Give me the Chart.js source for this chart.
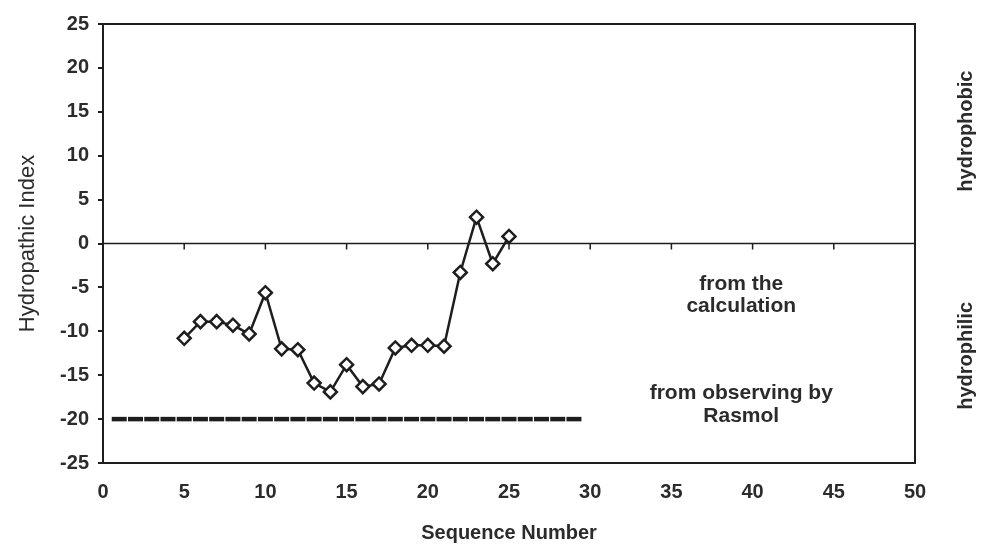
<!DOCTYPE HTML>
<html>

<head>
    <title>Hydropathic Index</title>
    <meta charset="utf-8">
    <script src="https://cdn.jsdelivr.net/npm/chart.js@4/dist/chart.umd.min.js"></script>
    <style>
        html, body {
            margin: 0;
            padding: 0;
            background: #fff;
        }

        .container {
            position: relative;
            width: 991px;
            height: 546px;
        }
    </style>
</head>

<body>
    <section class="container">
        <canvas id="hydro-chart" width=991 height=546></canvas>
    </section>

    <script>
        /* sequence numbers and index from the calculation */
        var seqNumbers = [5, 6, 7, 8, 9, 10, 11, 12, 13, 14, 15, 16, 17, 18, 19, 20, 21, 22, 23, 24, 25];
        var calcIndex = [-10.8, -8.9, -8.9, -9.3, -10.3, -5.6, -12.0, -12.1, -15.9, -16.9, -13.8,
            -16.3, -16.0, -11.9, -11.6, -11.6, -11.7, -3.3, 3.0, -2.3, 0.8];

        /* observed by Rasmol */
        var rasmolSeq = [1, 2, 3, 4, 5, 6, 7, 8, 9, 10, 11, 12, 13, 14, 15, 16, 17, 18, 19, 20,
            21, 22, 23, 24, 25, 26, 27, 28, 29];
        var rasmolIndex = [-20, -20, -20, -20, -20, -20, -20, -20, -20, -20, -20, -20, -20, -20, -20,
            -20, -20, -20, -20, -20, -20, -20, -20, -20, -20, -20, -20, -20, -20];

        var calcLabel = ["from the", "calculation"];
        var rasmolLabel = ["from observing by", "Rasmol"];
        var sideLabels = ["hydrophobic", "hydrophilic"];

        var INK = '#1e1e1e';
        var TEXT = '#2b2b2b';
        var FONT = "'Liberation Sans', Arial, sans-serif";

        function toPoints(xs, ys) {
            var out = [];
            for (var i = 0; i < xs.length; i++) out.push({ x: xs[i], y: ys[i] });
            return out;
        }

        // frame, zero line and its ticks, plus the texts
        var decor = {
            id: 'decor',
            beforeDatasetsDraw: function (chart) {
                var ctx = chart.ctx, a = chart.chartArea;
                var xs = chart.scales.x, ys = chart.scales.y;
                ctx.save();
                ctx.strokeStyle = INK;
                ctx.lineWidth = 2;
                ctx.beginPath();
                ctx.moveTo(a.left, a.top);
                ctx.lineTo(a.right, a.top);
                ctx.lineTo(a.right, a.bottom);
                ctx.stroke();

                var y0 = ys.getPixelForValue(0);
                ctx.lineWidth = 1.5;
                ctx.beginPath();
                ctx.moveTo(a.left, y0);
                ctx.lineTo(a.right, y0);
                xs.ticks.forEach(function (t) {
                    var px = xs.getPixelForValue(t.value);
                    ctx.moveTo(px, y0);
                    ctx.lineTo(px, y0 + 6);
                });
                ctx.stroke();
                ctx.restore();
            },
            afterDraw: function (chart) {
                var ctx = chart.ctx, a = chart.chartArea;
                var xs = chart.scales.x, ys = chart.scales.y;
                ctx.save();
                ctx.fillStyle = TEXT;
                ctx.textAlign = 'center';
                ctx.textBaseline = 'middle';
                ctx.font = "bold 21px " + FONT;
                var cx = xs.getPixelForValue(39.3);
                ctx.fillText(calcLabel[0], cx, ys.getPixelForValue(-4.6));
                ctx.fillText(calcLabel[1], cx, ys.getPixelForValue(-7.1));
                ctx.fillText(rasmolLabel[0], cx, ys.getPixelForValue(-17.1));
                ctx.fillText(rasmolLabel[1], cx, ys.getPixelForValue(-19.7));

                ctx.font = "bold 20px " + FONT;
                var sx = a.right + 51;
                [12.8, -12.8].forEach(function (v, i) {
                    ctx.save();
                    ctx.translate(sx, ys.getPixelForValue(v));
                    ctx.rotate(-Math.PI / 2);
                    ctx.fillText(sideLabels[i], 0, 0);
                    ctx.restore();
                });
                ctx.restore();
            }
        };

        var chart = new Chart(document.getElementById('hydro-chart'), {
            type: 'scatter',
            data: {
                datasets: [{
                    label: 'calculation',
                    data: toPoints(seqNumbers, calcIndex),
                    showLine: true,
                    borderColor: INK,
                    borderWidth: 2.5,
                    pointStyle: 'rectRot',
                    pointRadius: 6.5,
                    pointBorderWidth: 2.5,
                    pointBackgroundColor: '#fff',
                    pointBorderColor: INK
                }, {
                    label: 'Rasmol',
                    data: toPoints(rasmolSeq, rasmolIndex),
                    showLine: false,
                    pointStyle: 'line',
                    pointRadius: 7.5,
                    pointBorderWidth: 4.5,
                    pointBorderColor: INK,
                    borderColor: INK
                }]
            },
            options: {
                responsive: false,
                animation: false,
                layout: {
                    padding: { top: 24, right: 76, left: 0, bottom: 0 }
                },
                plugins: {
                    legend: { display: false },
                    tooltip: { enabled: false }
                },
                scales: {
                    x: {
                        type: 'linear',
                        min: 0,
                        max: 50,
                        afterFit: function (s) { s.height = 83; },
                        ticks: {
                            stepSize: 5,
                            padding: 17,
                            color: TEXT,
                            font: { family: FONT, size: 20, weight: 'bold' }
                        },
                        grid: { display: false, drawTicks: false },
                        border: { display: true, color: INK, width: 2 },
                        title: {
                            display: true,
                            text: 'Sequence Number',
                            color: TEXT,
                            padding: { top: 0, bottom: 1 },
                            font: { family: FONT, size: 20, weight: 'bold' }
                        }
                    },
                    y: {
                        min: -25,
                        max: 25,
                        afterFit: function (s) { s.width = 103; },
                        ticks: {
                            stepSize: 5,
                            padding: 9,
                            color: TEXT,
                            font: { family: FONT, size: 20, weight: 'bold' }
                        },
                        grid: {
                            drawOnChartArea: false,
                            drawTicks: true,
                            tickLength: 5,
                            color: INK,
                            lineWidth: 2
                        },
                        border: { display: true, color: INK, width: 2 },
                        title: {
                            display: true,
                            text: 'Hydropathic Index',
                            color: TEXT,
                            padding: { top: 15, bottom: 0 },
                            font: { family: FONT, size: 22 }
                        }
                    }
                }
            },
            plugins: [decor]
        });
    </script>
</body>

</html>
